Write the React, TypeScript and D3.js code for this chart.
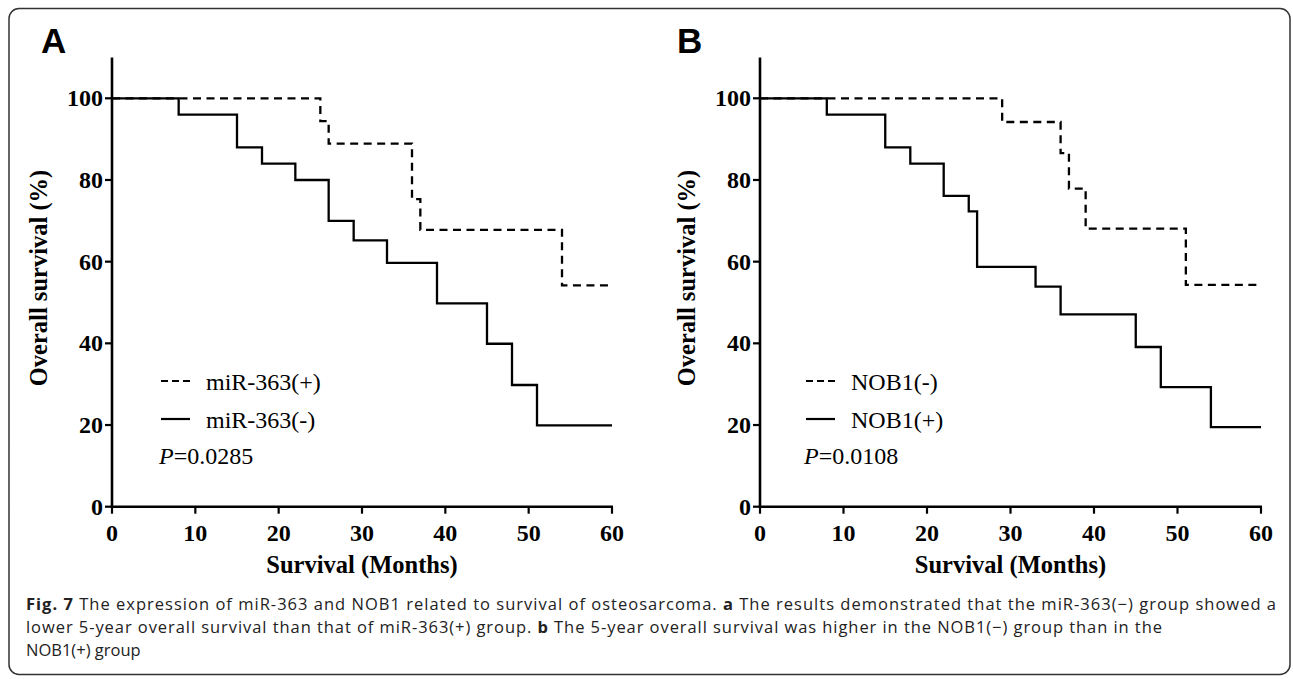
import React from "react";
import * as d3 from "d3";

const xTicks = [0, 10, 20, 30, 40, 50, 60];
const yTicks = [0, 20, 40, 60, 80, 100];

const miRPosTime = [0, 25, 26, 36, 37, 54, 60];
const miRPosSurv = [100, 94.4, 88.9, 75.3, 67.8, 54.2, 54.2];
const miRNegTime = [0, 8, 15, 18, 22, 26, 29, 33, 39, 45, 48, 51, 60];
const miRNegSurv = [100, 96, 88, 84, 80, 70, 65.2, 59.7, 49.8, 39.9, 29.8, 19.9, 19.9];

const nobNegTime = [0, 29, 36, 37, 39, 51, 60];
const nobNegSurv = [100, 94.2, 86.6, 77.9, 68.1, 54.3, 54.3];
const nobPosTime = [0, 8, 15, 18, 22, 25, 26, 33, 36, 45, 48, 54, 60];
const nobPosSurv = [100, 96, 88, 84, 76.1, 72.3, 58.7, 53.9, 47.1, 39.1, 29.3, 19.5, 19.5];

const panels = [
  {
    letter: "A",
    dashedLabel: "miR-363(+)",
    solidLabel: "miR-363(-)",
    pValue: "0.0285",
    dashedT: miRPosTime,
    dashedS: miRPosSurv,
    solidT: miRNegTime,
    solidS: miRNegSurv,
  },
  {
    letter: "B",
    dashedLabel: "NOB1(-)",
    solidLabel: "NOB1(+)",
    pValue: "0.0108",
    dashedT: nobNegTime,
    dashedS: nobNegSurv,
    solidT: nobPosTime,
    solidS: nobPosSurv,
  },
];

const layout = [
  { x0: 112, x1: 612, letterX: 41, legX: 161 },
  { x0: 760, x1: 1261, letterX: 677, legX: 806 },
];

const y0px = 506.7;
const y100px = 98.3;
const serif = "'Liberation Serif', 'Times New Roman', serif";

function Panel({ p, l }: { p: (typeof panels)[0]; l: (typeof layout)[0] }) {
  const x = d3.scaleLinear().domain([0, 60]).range([l.x0, l.x1]);
  const y = d3.scaleLinear().domain([0, 100]).range([y0px, y100px]);
  const line = d3
    .line<[number, number]>()
    .x((d) => x(d[0]))
    .y((d) => y(d[1]))
    .curve(d3.curveStepAfter);
  const dashed = p.dashedT.map((t, i) => [t, p.dashedS[i]] as [number, number]);
  const solid = p.solidT.map((t, i) => [t, p.solidS[i]] as [number, number]);
  const yTopPx = y(110);
  return (
    <g>
      <text x={l.letterX} y={53} fontFamily="'Liberation Sans', Arial, sans-serif" fontWeight="bold" fontSize={35}>
        {p.letter}
      </text>
      <path d={line(solid) || ""} fill="none" stroke="#000" strokeWidth={2.3} />
      <path d={line(dashed) || ""} fill="none" stroke="#000" strokeWidth={2.3} strokeDasharray="8,5.5" />
      <line x1={l.x0} x2={l.x0} y1={yTopPx} y2={y(0) + 1.2} stroke="#000" strokeWidth={2.6} />
      <line x1={l.x0 - 1.2} x2={l.x1 + 1} y1={y(0)} y2={y(0)} stroke="#000" strokeWidth={2.6} />
      {yTicks.map((t) => (
        <g key={"y" + t}>
          <line x1={l.x0 - 7} x2={l.x0} y1={y(t)} y2={y(t)} stroke="#000" strokeWidth={2.2} />
          <text x={l.x0 - 9} y={y(t) + 8} textAnchor="end" fontFamily={serif} fontWeight="bold" fontSize={24}>
            {t}
          </text>
        </g>
      ))}
      {xTicks.map((t) => (
        <g key={"x" + t}>
          <line x1={x(t)} x2={x(t)} y1={y(0)} y2={y(0) + 7} stroke="#000" strokeWidth={2.2} />
          <text x={x(t)} y={541} textAnchor="middle" fontFamily={serif} fontWeight="bold" fontSize={24}>
            {t}
          </text>
        </g>
      ))}
      <text x={(l.x0 + l.x1) / 2} y={573} textAnchor="middle" fontFamily={serif} fontWeight="bold" fontSize={24.5}>
        Survival (Months)
      </text>
      <text
        transform={`translate(${l.x0 - 65},278) rotate(-90)`}
        textAnchor="middle"
        fontFamily={serif}
        fontWeight="bold"
        fontSize={24.5}
      >
        Overall survival (%)
      </text>
      <line x1={l.legX} x2={l.legX + 29} y1={381} y2={381} stroke="#000" strokeWidth={2.2} strokeDasharray="7,4" />
      <text x={l.legX + 45} y={390} fontFamily={serif} fontSize={24}>
        {p.dashedLabel}
      </text>
      <line x1={l.legX} x2={l.legX + 29} y1={419} y2={419} stroke="#000" strokeWidth={2.2} />
      <text x={l.legX + 45} y={428} fontFamily={serif} fontSize={24}>
        {p.solidLabel}
      </text>
      <text x={l.legX - 2} y={464} fontFamily={serif} fontSize={24}>
        <tspan fontStyle="italic">P</tspan>={p.pValue}
      </text>
    </g>
  );
}

export default function App() {
  const sans = "'Open Sans', 'Noto Sans', sans-serif";
  return (
    <svg width={1293} height={679} style={{ position: "absolute", left: 0, top: 0, background: "#fff" }}>
      <rect x={0} y={0} width={1293} height={679} fill="#fff" />
      <rect x={9} y={8.5} width={1281} height={666} rx={10} ry={10} fill="none" stroke="#333" strokeWidth={1.5} />
      {panels.map((p, i) => (
        <Panel key={p.letter} p={p} l={layout[i]} />
      ))}
      <g fontFamily={sans} fontSize={16.5} fill="#222">
        <text x={26} y={610} textLength={1250} lengthAdjust="spacing">
          <tspan fontWeight="bold">Fig. 7</tspan> The expression of miR-363 and NOB1 related to survival of osteosarcoma.{" "}
          <tspan fontWeight="bold">a</tspan> The results demonstrated that the miR-363(−) group showed a
        </text>
        <text x={26} y={633} textLength={1136} lengthAdjust="spacing">
          lower 5-year overall survival than that of miR-363(+) group. <tspan fontWeight="bold">b</tspan> The 5-year
          overall survival was higher in the NOB1(−) group than in the
        </text>
        <text x={26} y={656}>
          NOB1(+) group
        </text>
      </g>
    </svg>
  );
}
